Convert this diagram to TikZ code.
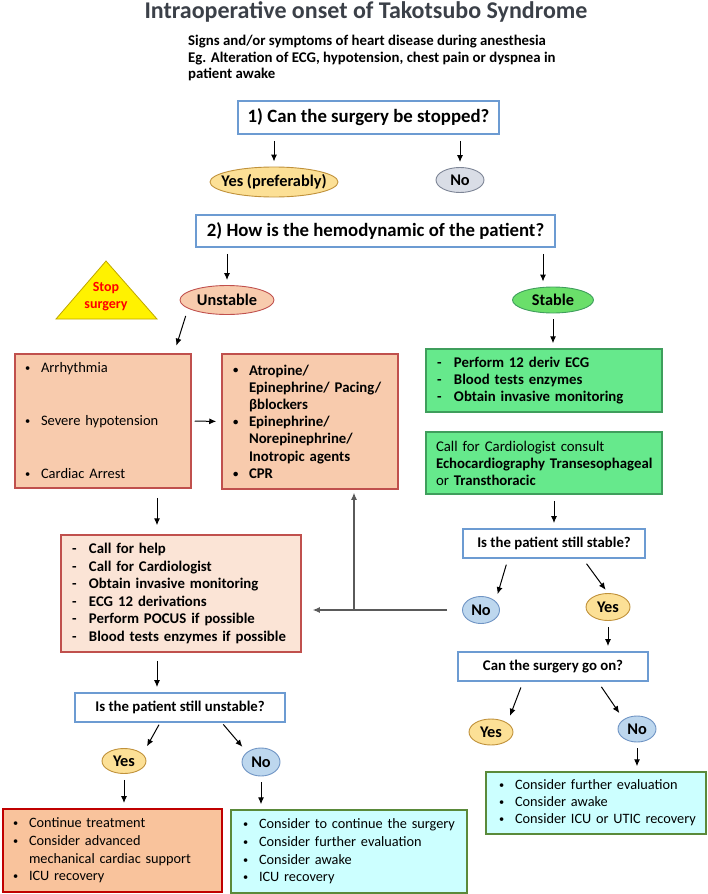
\documentclass[tikz,border=0pt]{standalone}
\usepackage{fontspec}
\setmainfont{Carlito}
\usetikzlibrary{shapes.geometric,arrows.meta}
\definecolor{qblue}{HTML}{6C9BD2}
\definecolor{peach}{HTML}{F8CBAD}
\definecolor{lpeach}{HTML}{FBE4D6}
\definecolor{dpeach}{HTML}{F9C39C}
\definecolor{redline}{HTML}{C0504D}
\definecolor{darkred}{HTML}{C00000}
\definecolor{mint}{HTML}{66E98C}
\definecolor{mintline}{HTML}{3F9E5C}
\definecolor{stgreen}{HTML}{6ADF6A}
\definecolor{cyanbox}{HTML}{CCFFFF}
\definecolor{cyanline}{HTML}{5A8A3A}
\definecolor{gold}{HTML}{FCE096}
\definecolor{goldline}{HTML}{C0913A}
\definecolor{grayno}{HTML}{D9DDE6}
\definecolor{graynoline}{HTML}{7D8596}
\definecolor{blueno}{HTML}{BDD7EE}
\definecolor{bluenoline}{HTML}{6F94C4}
\definecolor{titlegray}{HTML}{3B4048}
\definecolor{triline}{HTML}{BFA600}
\definecolor{fbgray}{HTML}{5A5A5A}
\newcommand{\bul}[1]{\mbox{\makebox[16pt][l]{\raisebox{0.08em}{\scalebox{0.72}{\textbullet}}}#1}}
\newcommand{\dsh}[1]{\mbox{\makebox[17pt][l]{-}#1}}
\newcommand{\ind}[1]{\mbox{\hspace*{16pt}#1}}

\begin{document}
\begin{tikzpicture}[x=1pt,y=-1pt,font=\fontsize{14.5}{17.5}\selectfont,
    arr/.style={-{Latex[length=7pt,width=6pt]},line width=1pt,shorten <=6pt,shorten >=5pt},
    fbl/.style={color=fbgray,line width=1.1pt},
    ask/.style={draw=qblue,line width=1.8pt,fill=white,inner sep=0pt,font=\fontsize{14.8}{17}\selectfont\bfseries},
    oval/.style={ellipse,draw,line width=0.9pt,inner sep=0pt,font=\fontsize{16.3}{18}\selectfont\bfseries},
    box/.style={rectangle,draw,line width=1.5pt,align=left,inner ysep=0pt}]
    \useasboundingbox (0,0) rectangle (708,894);
    \node[anchor=base,text=titlegray,font=\fontsize{24}{27}\selectfont\bfseries] (title) at (366,18) {Intraoperative onset of Takotsubo Syndrome};
    \node[anchor=north west,align=left,inner sep=0pt,font=\fontsize{14.8}{16.7}\selectfont\bfseries] (sub) at (188,35) {Signs and/or symptoms of heart disease during anesthesia\\Eg. Alteration of ECG, hypotension, chest pain or dyspnea in\\patient awake};
    \node[ask,minimum width=261pt,minimum height=33pt,font=\fontsize{18.8}{21}\selectfont\bfseries] (q1) at (368.5,117.5) {1) Can the surgery be stopped?};
    \node[oval,fill=gold,draw=goldline,minimum width=128pt,minimum height=30pt] (yes1) at (274,182) {\makebox[0pt]{Yes (preferably)}};
    \node[oval,fill=grayno,draw=graynoline,minimum width=48pt,minimum height=25pt] (no1) at (460,180) {No};
    \node[ask,minimum width=359pt,minimum height=32pt,font=\fontsize{18.8}{21}\selectfont\bfseries] (q2) at (375.5,231) {2) How is the hemodynamic of the patient?};
    \node[oval,fill=peach,draw=redline,minimum width=94pt,minimum height=29pt] (un) at (227,300) {Unstable};
    \node[oval,fill=stgreen,draw=mintline,minimum width=81pt,minimum height=26pt] (st) at (553,300) {Stable};
    \draw[fill=yellow,draw=triline,line width=0.8pt] (56,319) -- (106,261) -- (157,319) -- cycle;
    \node[align=center,text=red,font=\fontsize{14}{17}\selectfont\bfseries] (stop) at (106,297) {Stop\\surgery};
    \node[box,draw=redline,fill=peach,minimum width=176pt,minimum height=134pt,text width=156pt,inner xsep=10pt] (bxA) at (103,421) {\bul{Arrhythmia}\\[35.5pt]\bul{Severe hypotension}\\[35.5pt]\bul{Cardiac Arrest}};
    \node[box,draw=redline,fill=peach,minimum width=176pt,minimum height=135pt,text width=154pt,inner xsep=11pt,font=\fontsize{14.8}{17.2}\selectfont\bfseries] (bxB) at (310,421.5) {\bul{Atropine/}\\\ind{Epinephrine/ Pacing/}\\\ind{βblockers}\\\bul{Epinephrine/}\\\ind{Norepinephrine/}\\\ind{Inotropic agents}\\\bul{CPR}};
    \node[box,draw=mintline,fill=mint,minimum width=236pt,minimum height=63pt,text width=214pt,inner xsep=11pt,font=\fontsize{14.8}{17}\selectfont\bfseries] (g1) at (544,380.5) {\dsh{Perform 12 deriv ECG}\\\dsh{Blood tests enzymes}\\\dsh{Obtain invasive monitoring}};
    \node[box,draw=mintline,fill=mint,minimum width=236pt,minimum height=62pt,text width=216pt,inner xsep=10pt,font=\fontsize{14.8}{17}\selectfont] (g2) at (544,463) {\mbox{Call for Cardiologist consult}\\\mbox{\textbf{Echocardiography Transesophageal}}\\or \textbf{Transthoracic}};
    \node[ask,minimum width=182pt,minimum height=29pt] (q3) at (554,543.5) {Is the patient still stable?};
    \node[oval,fill=blueno,draw=bluenoline,minimum width=37pt,minimum height=27pt] (no2) at (481,610) {No};
    \node[oval,fill=gold,draw=goldline,minimum width=44pt,minimum height=27pt] (yes2) at (608,607) {Yes};
    \coordinate (turn) at (354,610);
    \node[box,draw=redline,fill=lpeach,minimum width=240pt,minimum height=117pt,text width=218pt,inner xsep=11pt,font=\fontsize{14.8}{17.6}\selectfont\bfseries] (bxC) at (181,593.5) {\dsh{Call for help}\\\dsh{Call for Cardiologist}\\\dsh{Obtain invasive monitoring}\\\dsh{ECG 12 derivations}\\\dsh{Perform POCUS if possible}\\\dsh{Blood tests enzymes if possible}};
    \node[ask,minimum width=210pt,minimum height=29pt] (q4) at (180,707.5) {Is the patient still unstable?};
    \node[oval,fill=gold,draw=goldline,minimum width=44pt,minimum height=25pt] (yes3) at (124,761) {Yes};
    \node[oval,fill=blueno,draw=bluenoline,minimum width=38pt,minimum height=28pt] (no3) at (261,762) {No};
    \node[box,draw=darkred,line width=2pt,fill=dpeach,minimum width=219pt,minimum height=83pt,text width=199pt,inner xsep=10pt,font=\fontsize{14.3}{17.7}\selectfont] (bxD) at (112.5,850.5) {\bul{Continue treatment}\\\bul{Consider advanced}\\\ind{mechanical cardiac support}\\\bul{ICU recovery}};
    \node[box,draw=cyanline,fill=cyanbox,minimum width=236pt,minimum height=83pt,text width=212pt,inner xsep=12pt,font=\fontsize{14.3}{17.7}\selectfont] (bxE) at (349,851.5) {\bul{Consider to continue the surgery}\\\bul{Consider further evaluation}\\\bul{Consider awake}\\\bul{ICU recovery}};
    \node[ask,minimum width=190pt,minimum height=29pt] (q5) at (553,666.5) {Can the surgery go on?};
    \node[oval,fill=gold,draw=goldline,minimum width=44pt,minimum height=26pt] (yes4) at (491,732) {Yes};
    \node[oval,fill=blueno,draw=bluenoline,minimum width=38pt,minimum height=26pt] (no4) at (637,729) {No};
    \node[box,draw=cyanline,fill=cyanbox,minimum width=220pt,minimum height=62pt,text width=194pt,inner xsep=13pt,font=\fontsize{14.3}{17}\selectfont] (bxF) at (596,803) {\bul{Consider further evaluation}\\\bul{Consider awake}\\\bul{Consider ICU or UTIC recovery}};
    \path[arr] (q1.south -| yes1) edge (yes1);
    \path[arr] (q1.south -| no1) edge (no1);
    \path[arr] (q2.south -| un) edge (un);
    \path[arr] ([xshift=167.5pt]q2.south) edge ([xshift=-10pt]st.north);
    \path[arr,shorten <=1pt,shorten >=8pt] ([xshift=-41pt]un.south) edge ([xshift=71pt]bxA.north);
    \path[arr] (st) edge (st |- g1.north);
    \path[arr,shorten <=3pt] (bxA.east) edge (bxB.west);
    \path[arr,shorten <=9pt,shorten >=9pt] ([xshift=54pt]bxA.south) edge ([xshift=-24pt]bxC.north);
    \path[arr] (g2.south -| q3) edge (q3);
    \path[arr,shorten >=2pt] ([xshift=-46pt]q3.south) edge ([xshift=16pt]no2.north);
    \path[arr,shorten >=4pt] ([xshift=29pt]q3.south) edge (yes2.north);
    \path[arr,fbl,shorten <=15pt,shorten >=11pt] (no2.west) edge (no2.west -| bxC.east);
    \path[arr,fbl,shorten <=0pt,shorten >=3pt] (turn) edge (turn |- bxB.south);
    \path[arr] (yes2) edge (yes2 |- q5.north);
    \path[arr,shorten <=8pt] ([xshift=-24pt]bxC.south) edge ([xshift=-23pt]q4.north);
    \path[arr,shorten <=2pt,shorten >=2pt] ([xshift=-20pt]q4.south) edge ([xshift=22pt]yes3.north);
    \path[arr,shorten <=2pt,shorten >=1pt] ([xshift=42pt]q4.south) edge ([xshift=-18pt]no3.north);
    \path[arr] (yes3) edge (yes3 |- bxD.north);
    \path[arr] (no3) edge (no3 |- bxE.north);
    \path[arr,shorten >=3pt] ([xshift=-30pt]q5.south) edge ([xshift=18pt]yes4.north);
    \path[arr,shorten >=3pt] ([xshift=45pt]q5.south) edge ([xshift=-16pt]no4.north);
    \path[arr] (no4) edge (no4 |- bxF.north);
\end{tikzpicture}
\end{document}
